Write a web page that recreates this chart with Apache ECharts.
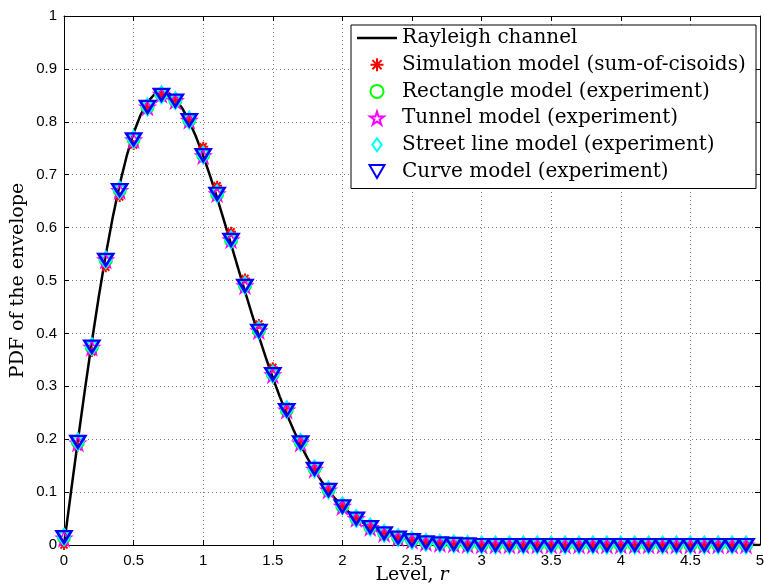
<!DOCTYPE html>
<html>
<head>
<meta charset="utf-8">
<script src="https://cdn.jsdelivr.net/npm/echarts@6/dist/echarts.min.js"></script>
<style>
  html, body { margin: 0; padding: 0; background: #fff; }
  #chart { width: 764px; height: 586px; }
</style>
</head>
<body>
<div id="chart"></div>
<script>
// Envelope level r at which the estimated PDFs are sampled
const levels = [
  0.0, 0.1, 0.2, 0.3, 0.4, 0.5, 0.6, 0.7, 0.8, 0.9,
  1.0, 1.1, 1.2, 1.3, 1.4, 1.5, 1.6, 1.7, 1.8, 1.9,
  2.0, 2.1, 2.2, 2.3, 2.4, 2.5, 2.6, 2.7, 2.8, 2.9,
  3.0, 3.1, 3.2, 3.3, 3.4, 3.5, 3.6, 3.7, 3.8, 3.9,
  4.0, 4.1, 4.2, 4.3, 4.4, 4.5, 4.6, 4.7, 4.8, 4.9
];

// Reference Rayleigh curve (r, p(r))
const rayleighR = [
  0, 0.05, 0.1, 0.15, 0.2, 0.25, 0.3, 0.35, 0.4, 0.45,
  0.5, 0.55, 0.6, 0.65, 0.7, 0.75, 0.8, 0.85, 0.9, 0.95,
  1.0, 1.05, 1.1, 1.15, 1.2, 1.25, 1.3, 1.35, 1.4, 1.45,
  1.5, 1.55, 1.6, 1.65, 1.7, 1.75, 1.8, 1.85, 1.9, 1.95,
  2.0, 2.05, 2.1, 2.15, 2.2, 2.25, 2.3, 2.35, 2.4, 2.45,
  2.5, 2.6, 2.7, 2.8, 2.9, 3.0, 3.5, 4.0, 4.5, 5.0
];
const rayleighPdf = [
  0, 0.0998, 0.1980, 0.2933, 0.3843, 0.4697, 0.5484, 0.6193, 0.6817, 0.7350,
  0.7788, 0.8129, 0.8372, 0.8520, 0.8577, 0.8547, 0.8437, 0.8254, 0.8007, 0.7706,
  0.7358, 0.6974, 0.6560, 0.6129, 0.5686, 0.5240, 0.4797, 0.4364, 0.3944, 0.3542,
  0.3162, 0.2805, 0.2474, 0.2168, 0.1890, 0.1637, 0.1410, 0.1207, 0.1028, 0.0870,
  0.0733, 0.0613, 0.0511, 0.0423, 0.0348, 0.0285, 0.0232, 0.0188, 0.0151, 0.0121,
  0.0097, 0.0060, 0.0037, 0.0022, 0.0013, 0.0007, 0.0000, 0, 0, 0
];

// Sum-of-cisoids simulation
const simulationPdf = [
  0.000, 0.186, 0.365, 0.525, 0.658, 0.756, 0.825, 0.850, 0.842, 0.806,
  0.753, 0.679, 0.592, 0.504, 0.418, 0.336, 0.262, 0.198, 0.146, 0.106,
  0.075, 0.051, 0.034, 0.022, 0.014, 0.009, 0.005, 0.003, 0.002, 0.001,
  0, 0, 0, 0, 0, 0, 0, 0, 0, 0,
  0, 0, 0, 0, 0, 0, 0, 0, 0, 0
];

// Measured envelope PDFs
const rectanglePdf = [
  0.014, 0.194, 0.374, 0.538, 0.670, 0.767, 0.828, 0.851, 0.840, 0.803,
  0.737, 0.663, 0.576, 0.490, 0.405, 0.323, 0.255, 0.194, 0.144, 0.104,
  0.073, 0.050, 0.034, 0.022, 0.014, 0.009, 0.005, 0.003, 0.002, 0.001,
  0, 0, 0, 0, 0, 0, 0, 0, 0, 0,
  0, 0, 0, 0, 0, 0, 0, 0, 0, 0
];
const tunnelPdf = [
  0.013, 0.193, 0.374, 0.539, 0.670, 0.766, 0.828, 0.852, 0.840, 0.803,
  0.736, 0.664, 0.577, 0.490, 0.405, 0.322, 0.255, 0.193, 0.143, 0.104,
  0.073, 0.050, 0.033, 0.022, 0.014, 0.009, 0.005, 0.003, 0.002, 0.001,
  0, 0, 0, 0, 0, 0, 0, 0, 0, 0,
  0, 0, 0, 0, 0, 0, 0, 0, 0, 0
];
const streetLinePdf = [
  0.015, 0.195, 0.375, 0.539, 0.671, 0.767, 0.828, 0.851, 0.840, 0.803,
  0.737, 0.664, 0.577, 0.491, 0.406, 0.323, 0.256, 0.194, 0.144, 0.104,
  0.074, 0.050, 0.034, 0.022, 0.014, 0.009, 0.005, 0.003, 0.002, 0.001,
  0, 0, 0, 0, 0, 0, 0, 0, 0, 0,
  0, 0, 0, 0, 0, 0, 0, 0, 0, 0
];
const curvePdf = [
  0.015, 0.195, 0.375, 0.539, 0.671, 0.767, 0.828, 0.851, 0.840, 0.803,
  0.737, 0.664, 0.577, 0.490, 0.405, 0.323, 0.255, 0.194, 0.144, 0.104,
  0.073, 0.050, 0.034, 0.022, 0.014, 0.009, 0.005, 0.003, 0.002, 0.001,
  0, 0, 0, 0, 0, 0, 0, 0, 0, 0,
  0, 0, 0, 0, 0, 0, 0, 0, 0, 0
];

const seriesNames = [
  'Rayleigh channel',
  'Simulation model (sum-of-cisoids)',
  'Rectangle model (experiment)',
  'Tunnel model (experiment)',
  'Street line model (experiment)',
  'Curve model (experiment)'
];

const xTickStep = 0.5;
const yTickStep = 0.1;

const zip = (xs, ys) => xs.map((x, i) => [x, ys[i]]);

// Marker outlines
const asteriskPath = 'path://M5,0L5,10M0,5L10,5M1.46,1.46L8.54,8.54M8.54,1.46L1.46,8.54';
const pentagramPath = 'path://M10,0L12.245,6.91L19.51,6.91L13.633,11.18L15.88,18.09L10,13.82L4.12,18.09L6.367,11.18L0.49,6.91L7.755,6.91Z';
const diamondPath = 'path://M5,0L10,7L5,14L0,7Z';
const triDownPath = 'path://M0,0L10,0L5,8.66Z';
const lineSamplePath = 'path://M0,0L40,0L40,2.5L0,2.5Z';

const serifFont = '"DejaVu Serif", "Liberation Serif", serif';
const sansFont = '"Liberation Sans", Arial, Helvetica, sans-serif';

function markerSeries(name, values, symbol, size, color, width) {
  return {
    name: name,
    type: 'scatter',
    data: zip(levels, values),
    symbol: symbol,
    symbolSize: size,
    itemStyle: { color: 'rgba(0,0,0,0)', borderColor: color, borderWidth: width, opacity: 1 },
    emphasis: { disabled: true },
    silent: true,
    z: 3
  };
}

const gridLine = { show: true, lineStyle: { color: '#7a7a7a', type: [1, 3], width: 1 } };
const boxLine = { show: true, onZero: false, lineStyle: { color: '#000', width: 1 } };
const innerTick = { show: true, inside: true, length: 5, lineStyle: { color: '#000', width: 1 } };

const chart = echarts.init(document.getElementById('chart'), null, { renderer: 'canvas' });

chart.setOption({
  animation: false,
  backgroundColor: '#fff',
  grid: { left: 64, right: 4, top: 16, bottom: 41, containLabel: false, outerBoundsMode: 'none' },
  xAxis: [
    {
      type: 'value', position: 'bottom', min: 0, max: 5, interval: xTickStep,
      axisLine: boxLine, axisTick: innerTick, splitLine: gridLine,
      axisLabel: { color: '#000', fontFamily: sansFont, fontSize: 15, margin: 8 },
      name: 'Level, {i|r}',
      nameLocation: 'middle',
      nameGap: 21,
      nameMoveOverlap: false,
      nameTextStyle: {
        color: '#000', fontFamily: serifFont, fontSize: 19,
        rich: { i: { fontStyle: 'italic', fontFamily: serifFont, fontSize: 19, color: '#000' } }
      }
    },
    {
      type: 'value', position: 'top', min: 0, max: 5, interval: xTickStep,
      axisLine: boxLine, axisTick: innerTick, splitLine: { show: false },
      axisLabel: { show: false }
    }
  ],
  yAxis: [
    {
      type: 'value', position: 'left', min: 0, max: 1, interval: yTickStep,
      axisLine: boxLine, axisTick: innerTick, splitLine: gridLine,
      axisLabel: { color: '#000', fontFamily: sansFont, fontSize: 15, margin: 7 },
      name: 'PDF of the envelope',
      nameLocation: 'middle',
      nameGap: 36,
      nameMoveOverlap: false,
      nameTextStyle: { color: '#000', fontFamily: serifFont, fontSize: 19 }
    },
    {
      type: 'value', position: 'right', min: 0, max: 1, interval: yTickStep,
      axisLine: boxLine, axisTick: innerTick, splitLine: { show: false },
      axisLabel: { show: false }
    }
  ],
  legend: {
    show: true,
    orient: 'vertical',
    left: 351,
    top: 25,
    data: [
      { name: seriesNames[0], icon: lineSamplePath, itemStyle: { color: '#000', borderWidth: 0 } },
      { name: seriesNames[1] },
      { name: seriesNames[2] },
      { name: seriesNames[3] },
      { name: seriesNames[4] },
      { name: seriesNames[5] }
    ],
    backgroundColor: '#fff',
    borderColor: '#000',
    borderWidth: 1,
    borderRadius: 0,
    padding: [3, 7, 7, 6],
    itemGap: 6.7,
    itemWidth: 40,
    itemHeight: 13,
    selectedMode: false,
    textStyle: { color: '#000', fontFamily: serifFont, fontSize: 20, lineHeight: 20, width: 347 }
  },
  series: [
    {
      name: seriesNames[0],
      type: 'line',
      data: zip(rayleighR, rayleighPdf),
      symbol: 'none',
      lineStyle: { color: '#000', width: 2.5 },
      itemStyle: { color: '#000' },
      emphasis: { disabled: true },
      silent: true,
      z: 2
    },
    markerSeries(seriesNames[1], simulationPdf, asteriskPath, 10, '#ff0000', 2),
    markerSeries(seriesNames[2], rectanglePdf, 'circle', 12, '#00ff00', 2),
    markerSeries(seriesNames[3], tunnelPdf, pentagramPath, 15, '#ff00ff', 1.5),
    markerSeries(seriesNames[4], streetLinePdf, diamondPath, [12, 17], '#00ffff', 2),
    markerSeries(seriesNames[5], curvePdf, triDownPath, [15, 12], '#0000ff', 2.5)
  ]
});
</script>
</body>
</html>
